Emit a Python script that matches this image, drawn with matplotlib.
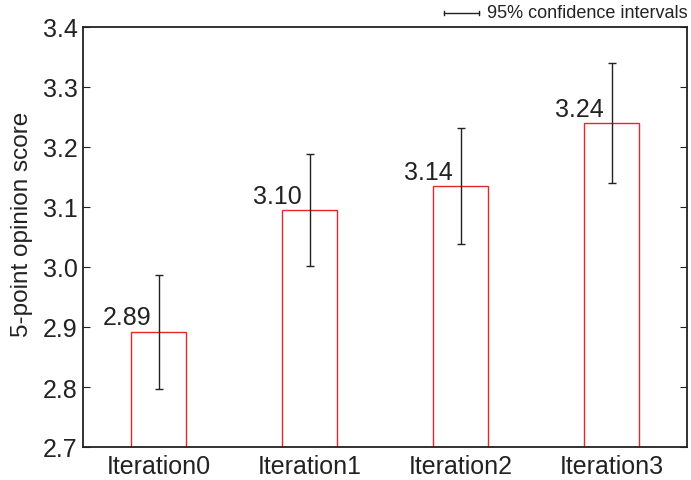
import matplotlib
matplotlib.use("Agg")
import matplotlib.pyplot as plt
from matplotlib.lines import Line2D

plt.rcParams['font.family'] = ['Liberation Sans', 'DejaVu Sans']

categories = ["Iteration0", "Iteration1", "Iteration2", "Iteration3"]
scores = [2.892, 3.095, 3.135, 3.240]
ci = [0.095, 0.093, 0.097, 0.100]
labels = ["2.89", "3.10", "3.14", "3.24"]

W, H = 691, 481
fig = plt.figure(figsize=(W/100, H/100), dpi=100)
ax = fig.add_axes([83/W, 1-448/H, 604/W, 420/H])

x = list(range(len(categories)))
ax.bar(x, scores, width=0.37, bottom=0, facecolor='none', edgecolor='#e8262b', linewidth=1.0)
ax.errorbar(x, scores, yerr=ci, fmt='none', ecolor='#222222', elinewidth=1.0, capsize=3, capthick=1.0)
for xi, s, lab in zip(x, scores, labels):
    ax.text(xi - 0.21, s + 0.004, lab, ha='center', va='bottom', fontsize=18, color='#222222')

ax.set_xlim(-0.5, 3.5)
ax.set_ylim(2.7, 3.4)
yt = [2.7, 2.8, 2.9, 3.0, 3.1, 3.2, 3.3, 3.4]
ax.set_yticks(yt)
ax.set_yticklabels([f"{v:.1f}" for v in yt])
ax.set_xticks(x)
ax.set_xticklabels(categories)
ax.tick_params(axis='y', direction='in', right=True, left=True, length=5, labelsize=18, colors='#222222', pad=4)
ax.tick_params(axis='x', length=0, labelsize=18, colors='#222222', pad=5)
ax.set_ylabel("5-point opinion score", fontsize=17.5, color='#222222')
ax.yaxis.set_label_coords(-0.083, 0.533)
for sp in ax.spines.values():
    sp.set_linewidth(1.3)
    sp.set_color('#222222')

# legend-like key for confidence intervals (figure coordinates)
ly = 1 - 14/H
fig.add_artist(Line2D([444/W, 479/W], [ly, ly], color='#222222', lw=1.0))
for xx in (444, 479):
    fig.add_artist(Line2D([xx/W, xx/W], [ly - 2/H, ly + 2/H], color='#222222', lw=1.0))
fig.text(487/W, ly, "95% confidence intervals", fontsize=13, va='center', ha='left', color='#222222')

fig.savefig("out.png", dpi=100)
